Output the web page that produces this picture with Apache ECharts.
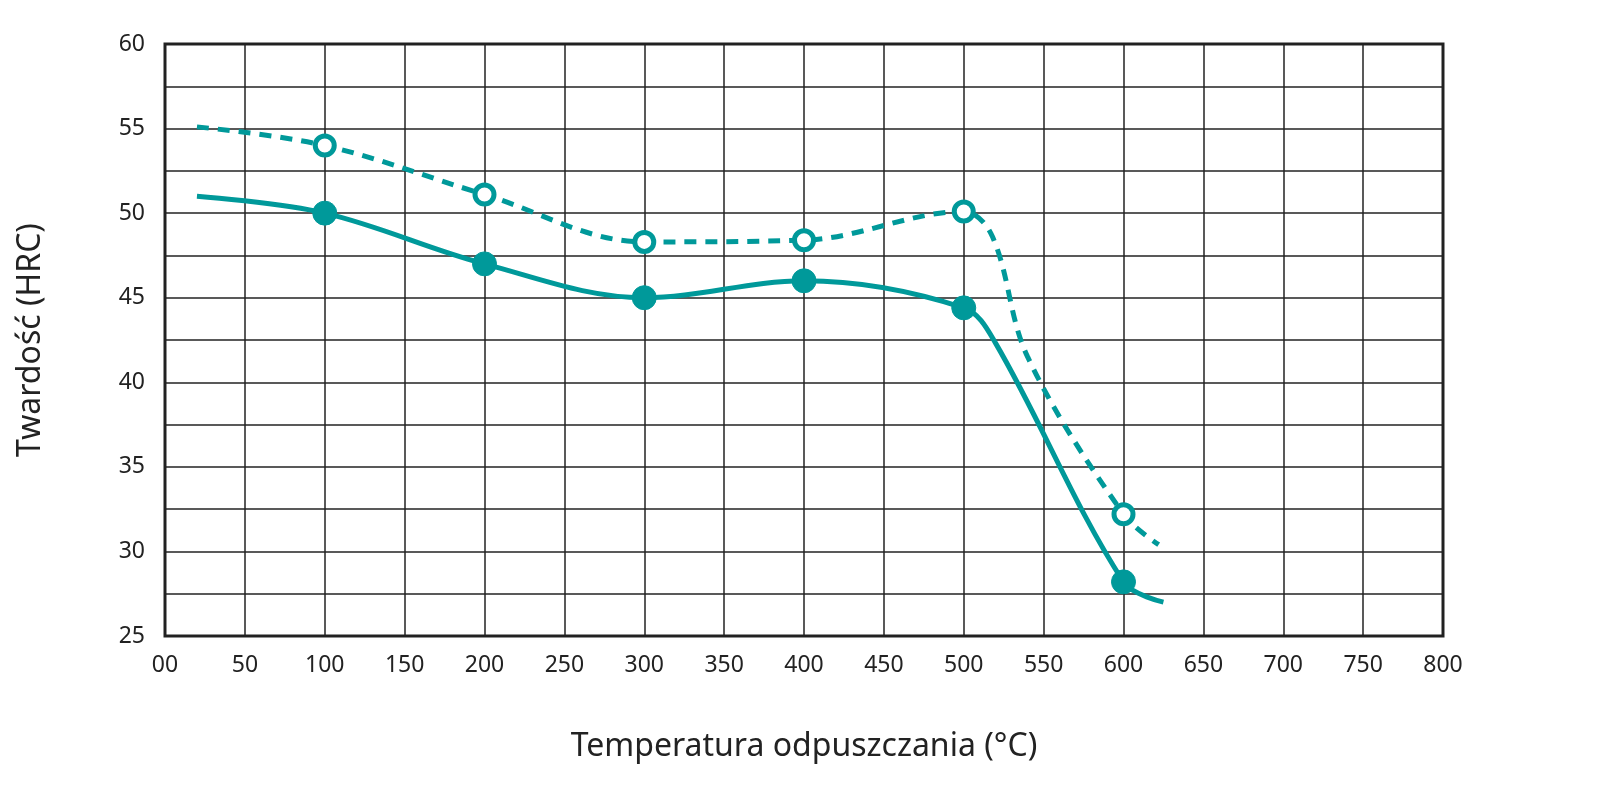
<!DOCTYPE html>
<html><head><meta charset="utf-8">
<script src="https://cdn.jsdelivr.net/npm/echarts@6/dist/echarts.min.js"></script>
<style>html,body{margin:0;background:#fff}#c{width:1621px;height:799px}</style>
</head><body><div id="c"></div>
<script>
// temperatury i twardość (HRC); marker = 1 tam, gdzie jest punkt pomiarowy
var tempSolid = [20, 100, 200, 300, 400, 500, 520, 600, 625];
var hrcSolid = [51, 50, 47, 45, 46, 44.4, 42.3, 28.2, 27];
var markSolid = [0, 1, 1, 1, 1, 1, 0, 1, 0];
var tempDash = [20, 100, 200, 300, 400, 500, 518, 540, 600, 622];
var hrcDash = [55.1, 54, 51.1, 48.3, 48.4, 50.1, 48.6, 41.5, 32.2, 30.4];
var markDash = [0, 1, 1, 1, 1, 1, 0, 0, 1, 0];
var xLabels = ['00','50','100','150','200','250','300','350','400','450','500','550','600','650','700','750','800'];

var teal = '#00999a';
function build(t, h, m) {
    return t.map(function (x, i) {
        return m[i] ? [x, h[i]] : { value: [x, h[i]], symbol: 'none' };
    });
}
var myChart = echarts.init(document.getElementById('c'));
var option = {
    animation: false,
    grid: { left: 165, right: 178, top: 44, bottom: 163, show: true, borderColor: '#222', borderWidth: 3 },
    xAxis: {
        type: 'value', min: 0, max: 800, interval: 50,
        axisLine: { show: false }, axisTick: { show: false },
        axisLabel: { color: '#222', fontSize: 23, fontFamily: 'Noto Sans', margin: 18,
            formatter: function (v) { return xLabels[v / 50]; } },
        splitLine: { lineStyle: { color: '#222', width: 1.5 } },
        name: 'Temperatura odpuszczania (°C)', nameLocation: 'middle', nameGap: 95,
        nameTextStyle: { color: '#222', fontSize: 32, fontFamily: 'Noto Sans' }
    },
    yAxis: {
        type: 'value', min: 25, max: 60, interval: 2.5,
        axisLine: { show: false }, axisTick: { show: false },
        axisLabel: { color: '#222', fontSize: 23, fontFamily: 'Noto Sans', margin: 20,
            formatter: function (v) { return v % 5 === 0 ? v : ''; } },
        splitLine: { lineStyle: { color: '#222', width: 1.5 } },
        name: 'Twardość (HRC)', nameLocation: 'middle', nameGap: 118,
        nameTextStyle: { color: '#222', fontSize: 32, fontFamily: 'Noto Sans' }
    },
    series: [
        {
            type: 'line', smooth: 0.35, data: build(tempSolid, hrcSolid, markSolid),
            symbol: 'circle', symbolSize: 24, showAllSymbol: true,
            lineStyle: { color: teal, width: 5 },
            itemStyle: { color: teal, borderColor: teal }
        },
        {
            type: 'line', smooth: 0.35, data: build(tempDash, hrcDash, markDash),
            symbol: 'circle', symbolSize: 19, showAllSymbol: true,
            lineStyle: { color: teal, width: 5, type: [12, 9] },
            itemStyle: { color: '#fff', borderColor: teal, borderWidth: 5 }
        }
    ]
};
myChart.setOption(option);
</script></body></html>
